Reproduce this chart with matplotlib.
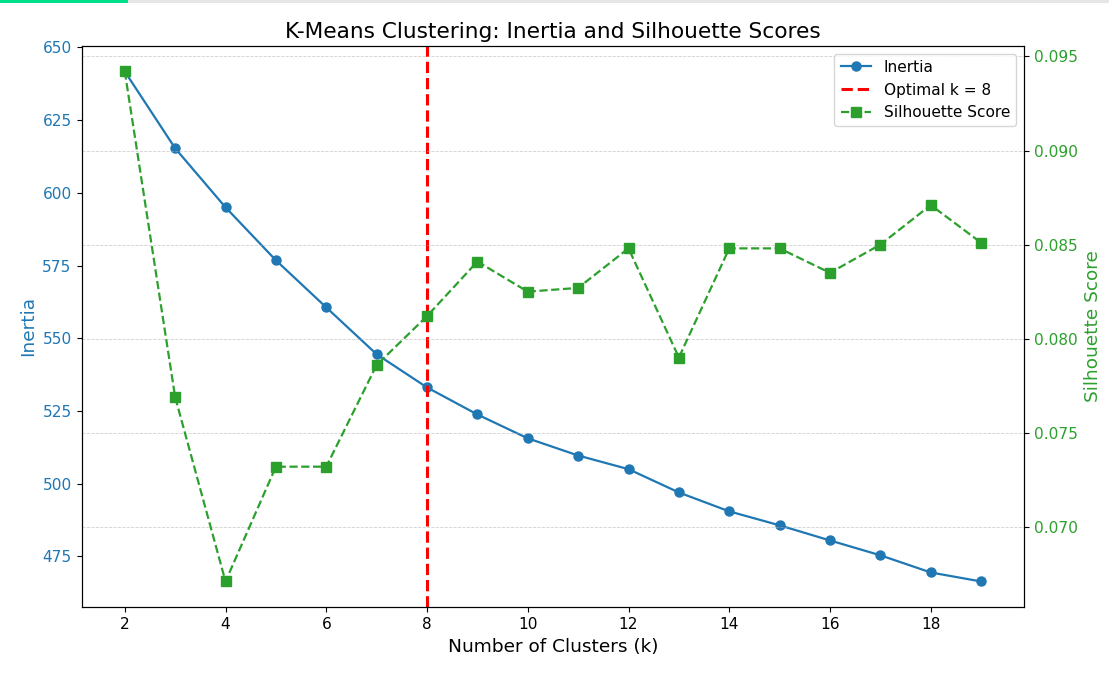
import matplotlib
matplotlib.use("Agg")
import matplotlib.pyplot as plt
from matplotlib.patches import Rectangle

k_values = list(range(2, 20))
inertia = [641.7, 615.3, 595.0, 576.8, 560.6, 544.5, 533.1, 523.8, 515.6, 509.7,
           505.0, 497.0, 490.5, 485.7, 480.5, 475.4, 469.5, 466.4]
silhouette = [0.0942, 0.0769, 0.0671, 0.0732, 0.0732, 0.0786, 0.0812, 0.0841, 0.0825,
              0.0827, 0.0848, 0.0790, 0.0848, 0.0848, 0.0835, 0.0850, 0.0871, 0.0851]
optimal_k = 8

s = 1.11
plt.rcParams['xtick.labelsize'] = 10 * s
plt.rcParams['ytick.labelsize'] = 10 * s
plt.rcParams['xtick.major.size'] = 3.5 * s
plt.rcParams['ytick.major.size'] = 3.5 * s

fig = plt.figure(figsize=(11.09, 6.73), dpi=100)
ax1 = fig.add_axes([0.0739, 0.0981, 0.8494, 0.8336])

l1, = ax1.plot(k_values, inertia, marker='o', color='tab:blue', label='Inertia',
               linewidth=1.6, markersize=6.5)
l2 = ax1.axvline(optimal_k, color='red', linestyle='--', linewidth=2.2, label=f'Optimal k = {optimal_k}')
ax1.set_xlabel('Number of Clusters (k)', fontsize=12 * s)
ax1.set_ylabel('Inertia', color='tab:blue', fontsize=12 * s)
ax1.tick_params(axis='y', labelcolor='tab:blue')
ax1.set_xticks(range(2, 20, 2))

ax2 = ax1.twinx()
l3, = ax2.plot(k_values, silhouette, marker='s', linestyle='--', color='tab:green',
               label='Silhouette Score', linewidth=1.6, markersize=6.5)
ax2.set_ylabel('Silhouette Score', color='tab:green', fontsize=12 * s)
ax2.tick_params(axis='y', labelcolor='tab:green')
ax2.grid(True, linestyle='--', alpha=0.6, linewidth=0.6)

ax1.set_title('K-Means Clustering: Inertia and Silhouette Scores', fontsize=14 * s)
ax2.legend(handles=[l1, l2, l3], loc='upper right', fontsize=10 * s)

fig.add_artist(Rectangle((0, 1 - 3 / 673), 1, 3 / 673, transform=fig.transFigure,
                         facecolor='#e6e6e6', edgecolor='none'))
fig.add_artist(Rectangle((0, 1 - 3 / 673), 128 / 1109, 3 / 673, transform=fig.transFigure,
                         facecolor='#00e08a', edgecolor='none'))

fig.savefig('out.png', dpi=100)
